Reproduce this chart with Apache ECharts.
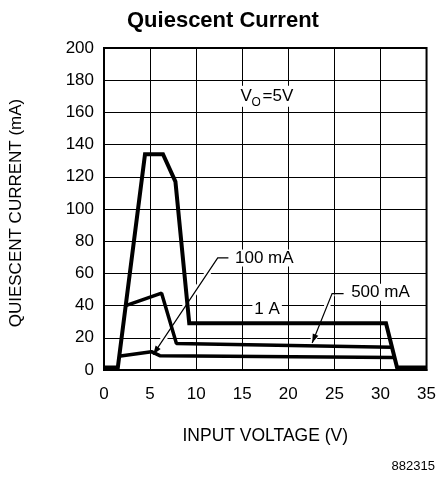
<!DOCTYPE html>
<html>
<head>
<meta charset="utf-8">
<script src="https://cdn.jsdelivr.net/npm/echarts@6/dist/echarts.min.js"></script>
<style>html,body{margin:0;padding:0;background:#fff}#c{width:439px;height:477px}</style>
</head>
<body>
<div id="c"></div>
<script>
// ---- data ----
const xTickValues = [0, 5, 10, 15, 20, 25, 30, 35];
const yTickValues = [0, 20, 40, 60, 80, 100, 120, 140, 160, 180, 200];

const voltage1A = [0, 1.5, 4.45, 6.4, 7.75, 9.25, 30.6, 31.8, 35];
const current1A = [1.5, 1.5, 134, 134, 117, 29, 29, 1.5, 1.5];

const voltage500mA = [2.36, 6.25, 7.86, 31.22];
const current500mA = [40, 47.7, 16.4, 14.2];

const voltage100mA = [1.6, 5.15, 6.05, 31.45];
const current100mA = [8.6, 11.4, 8.9, 7.8];

// annotation anchors in data coordinates [V, mA]
const label100 = {text: '100 mA', at: [14.0, 69.6], bendFrom: [12.34, 69.6], bendTo: [13.5, 69.6], tip: [5.33, 9.5]};
const label500 = {text: '500 mA', at: [26.6, 48.3], bendFrom: [24.75, 47.5], bendTo: [26.0, 47.5], tip: [22.59, 16.8]};
const label1A = {text: '1 A', at: [16.1, 37.8]};
const labelVo = {at: [14.6, 170]};

const FONT = '"Liberation Sans", Arial, sans-serif';
const pairs = (xs, ys) => xs.map((x, i) => [x, ys[i]]);

const chart = echarts.init(document.getElementById('c'));
chart.setOption({
  animation: false,
  backgroundColor: '#fff',
  title: {
    text: 'Quiescent Current', left: 122, top: 5,
    textStyle: {fontFamily: FONT, fontSize: 22, fontWeight: 'bold', color: '#000'}
  },
  grid: {left: 102, top: 48, width: 325, height: 322, show: true, borderColor: '#000', borderWidth: 2, containLabel: false},
  xAxis: {
    type: 'value', min: 0, max: 35, interval: 5,
    name: 'INPUT VOLTAGE (V)', nameLocation: 'middle', nameGap: 57,
    nameTextStyle: {fontFamily: FONT, fontSize: 17.5, color: '#000'},
    axisLine: {show: true, lineStyle: {color: '#000', width: 2}},
    axisTick: {show: false},
    axisLabel: {margin: 16, fontFamily: FONT, fontSize: 17, color: '#000',
      formatter: v => xTickValues.includes(v) ? String(v) : ''},
    splitLine: {show: true, lineStyle: {color: '#000', width: 1}}
  },
  yAxis: {
    type: 'value', min: 0, max: 200, interval: 20,
    name: 'QUIESCENT CURRENT (mA)', nameLocation: 'middle', nameGap: 79, nameRotate: 90,
    nameTextStyle: {fontFamily: FONT, fontSize: 17, color: '#000', padding: [0, 8, 0, 0]},
    axisLine: {show: true, lineStyle: {color: '#000', width: 2}},
    axisTick: {show: false},
    axisLabel: {margin: 10, fontFamily: FONT, fontSize: 17, color: '#000',
      formatter: v => yTickValues.includes(v) ? String(v) : ''},
    splitLine: {show: true, lineStyle: {color: '#000', width: 1}}
  },
  series: [
    {name: '1 A', type: 'line', data: pairs(voltage1A, current1A), symbol: 'none', z: 3,
      lineStyle: {color: '#000', width: 4, join: 'miter'}},
    {name: '500 mA', type: 'line', data: pairs(voltage500mA, current500mA), symbol: 'none', z: 3,
      lineStyle: {color: '#000', width: 3.5}},
    {name: '100 mA', type: 'line', data: pairs(voltage100mA, current100mA), symbol: 'none', z: 3,
      lineStyle: {color: '#000', width: 3.5}}
  ]
});

function px(p) { return chart.convertToPixel({gridIndex: 0}, p); }
function arrowHead(from, to, len, half) {
  const dx = to[0] - from[0], dy = to[1] - from[1];
  const d = Math.hypot(dx, dy), ux = dx / d, uy = dy / d;
  const bx = to[0] - ux * len, by = to[1] - uy * len;
  return [[to[0], to[1]], [bx - uy * half, by + ux * half], [bx + uy * half, by - ux * half]];
}
function textEl(t, p, extra) {
  return {type: 'text', x: p[0], y: p[1], z: 4,
    style: Object.assign({text: t, fontFamily: FONT, fontSize: 17, fill: '#000', backgroundColor: '#fff',
      padding: [0, 2], align: 'left', verticalAlign: 'middle'}, extra || {})};
}
const g = [];
[label100, label500].forEach(L => {
  const a = px(L.bendFrom), b = px(L.bendTo), t = px(L.tip);
  g.push({type: 'line', z: 1, shape: {x1: a[0], y1: a[1], x2: t[0], y2: t[1]}, style: {stroke: '#fff', lineWidth: 6}});
  g.push({type: 'polyline', z: 5, shape: {points: [b, a, t]}, style: {stroke: '#000', lineWidth: 1.2, fill: null}});
  g.push({type: 'polygon', z: 5, shape: {points: arrowHead(a, t, 9, 3)}, style: {fill: '#000'}});
  g.push(textEl(L.text, px(L.at)));
});
g.push(textEl(label1A.text, px(label1A.at)));
const vo = px(labelVo.at);
g.push(textEl('V', [vo[0], vo[1]], {padding: [2, 0, 2, 2]}));
g.push(textEl('O', [vo[0] + 12, vo[1] + 6], {fontSize: 12, padding: [0, 1]}));
g.push(textEl('=5V', [vo[0] + 22, vo[1]], {padding: [2, 2]}));
g.push({type: 'text', x: 435, y: 466, z: 4, style: {text: '882315', fontFamily: FONT, fontSize: 13, fill: '#000', align: 'right', verticalAlign: 'middle'}});
chart.setOption({graphic: g});
</script>
</body>
</html>
